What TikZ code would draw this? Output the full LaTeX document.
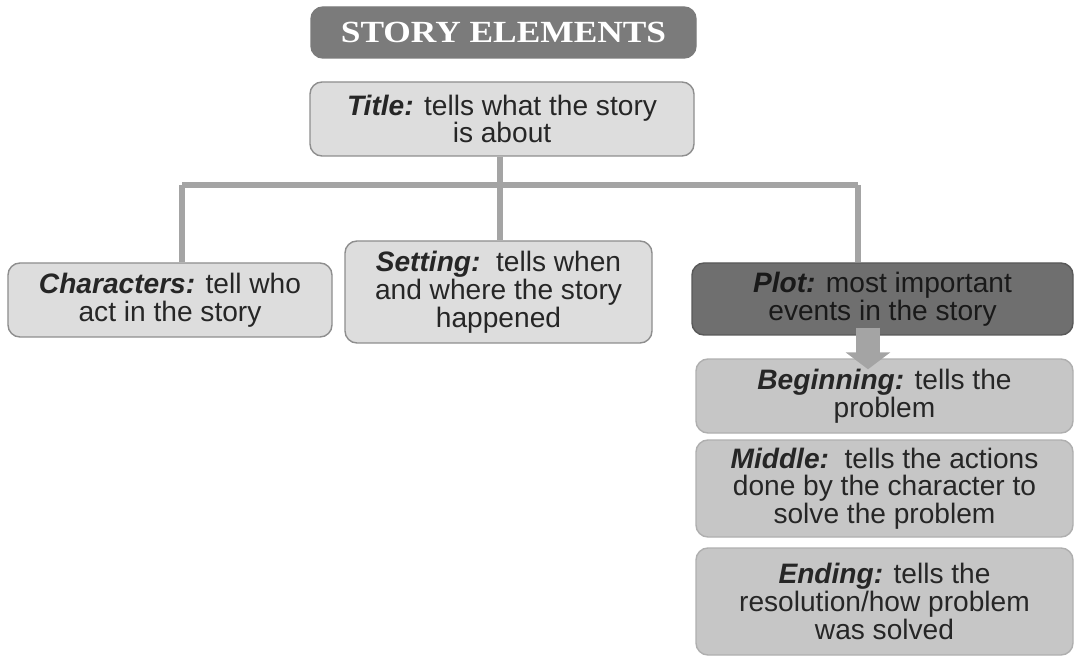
\documentclass[tikz,border=0pt]{standalone}
\usepackage{fontspec}
\setmainfont{Liberation Sans}
\newfontfamily\headfont{Liberation Serif}
\usepackage{graphicx}
\usetikzlibrary{arrows.meta,calc}

\definecolor{headgray}{HTML}{7B7B7B}
\definecolor{lightbox}{HTML}{DDDDDD}
\definecolor{boxline}{HTML}{8E8E8E}
\definecolor{plotgray}{HTML}{6F6F6F}
\definecolor{partgray}{HTML}{C6C6C6}
\definecolor{partline}{HTML}{AFAFAF}
\definecolor{linkgray}{HTML}{A4A4A4}

\newcommand{\lbl}[1]{{\bfseries\itshape #1}}

\begin{document}
\begin{tikzpicture}[
    every node/.style={align=center, font=\fontsize{16}{15.8}\selectfont},
    box/.style={draw=boxline, fill=lightbox, rounded corners=0.24cm, line width=0.8pt,
                inner sep=0pt, text=black!85},
    part/.style={box, draw=partline, fill=partgray},
    link/.style={draw=linkgray, line width=3.4pt},
    blockarrow/.style={draw=linkgray, line width=0.48cm, -{Triangle[width=0.88cm,length=0.34cm]}}
  ]

  \useasboundingbox (0,0) rectangle (21.5,-13.14);

  % heading
  \node[box, draw=headgray, fill=headgray, minimum width=7.7cm, minimum height=1.02cm,
        text=white, font=\headfont\bfseries\fontsize{17.5}{17.5}\selectfont]
        (head) at (10.07,-0.65) {\scalebox{1.15}[1]{STORY ELEMENTS}};

  \node[box, minimum width=7.68cm, minimum height=1.48cm] (title) at (10.04,-2.38)
        {\lbl{Title:} tells what the story\\is about};

  \node[box, minimum width=6.48cm, minimum height=1.48cm] (chars) at (3.4,-6.0)
        {\lbl{Characters:} tell who\\act in the story};
  \node[box, minimum width=6.14cm, minimum height=2.04cm] (setting) at (9.97,-5.84)
        {\lbl{Setting:}\ \ tells when\\and where the story\\happened};
  \node[box, draw=plotgray!80!black, fill=plotgray, minimum width=7.62cm, minimum height=1.44cm,
        text=black!90] (plot) at (17.65,-5.98)
        {\lbl{Plot:} most important\\events in the story};

  \node[part, minimum width=7.54cm, minimum height=1.48cm] (begin) at (17.69,-7.92)
        {\lbl{Beginning:} tells the\\problem};
  \node[part, minimum width=7.54cm, minimum height=1.94cm] (middle) at (17.69,-9.77)
        {\lbl{Middle:}\ \ tells the actions\\done by the character to\\solve the problem};
  \node[part, minimum width=7.54cm, minimum height=2.14cm] (ending) at (17.69,-12.03)
        {\lbl{Ending:} tells the\\resolution/how problem\\was solved};

  % tree lines
  \coordinate (busL) at (3.64,-3.7);
  \coordinate (busM) at (10.0,-3.7);
  \coordinate (busR) at (17.16,-3.7);
  \draw[link] (title.south -| busM) -- (busM);
  \draw[link] (busL) -- (busR);
  \draw[link] (busL) -- (busL |- chars.north);
  \draw[link] (busM) -- (busM |- setting.north);
  \draw[link] (busR) -- (busR |- plot.north);

  \coordinate (arr) at (17.36,0);
  \draw[blockarrow] ($(plot.south -| arr)+(0,0.16)$) -- ($(begin.north -| arr)+(0,-0.22)$);

\end{tikzpicture}
\end{document}
